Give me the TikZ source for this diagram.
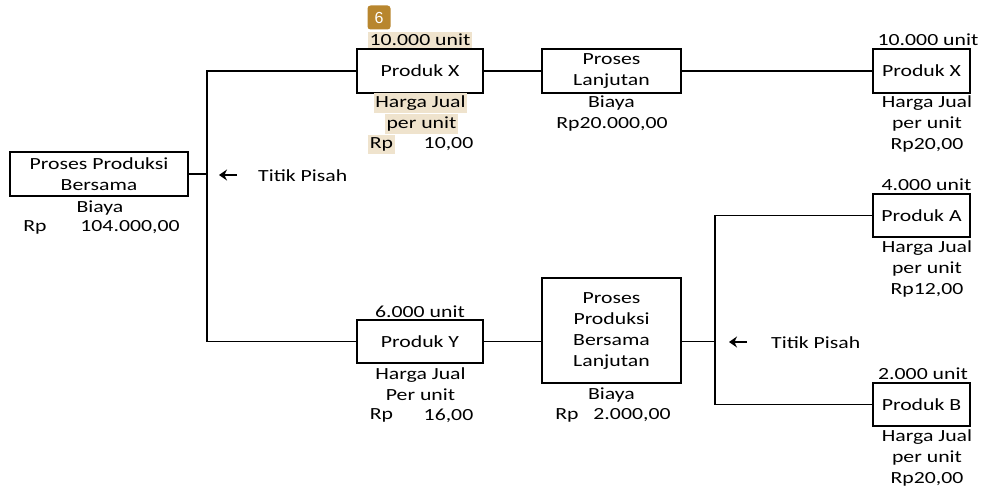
\documentclass[tikz,border=0pt]{standalone}
\usepackage{fontspec}
\setmainfont{Carlito}[FakeStretch=1.28]
\newfontfamily\badgefont{Liberation Sans}
\usetikzlibrary{arrows.meta,positioning}
\definecolor{hiliteclr}{RGB}{239,227,205}
\definecolor{badgeclr}{RGB}{184,134,46}
\tikzset{
  flowbox/.style={draw, line width=2.9pt, inner sep=0pt, align=center},
  flowline/.style={line width=1.6pt},
  flowlabel/.style={inner sep=0pt, align=center},
  hilite/.style={fill=hiliteclr, inner xsep=1.5pt, inner ysep=2.5pt},
  pisaharrow/.style={-{Stealth[length=8pt,width=11pt]}, line width=2.6pt}
}

\begin{document}
\begin{tikzpicture}[x=1pt, y=-1pt, font=\fontsize{17}{21}\selectfont]
  \useasboundingbox (0,0) rectangle (982,487);
  % boxes
  \node[flowbox, minimum width=178pt, minimum height=44pt] (joint) at (99,174) {Proses Produksi\\Bersama};
  \node[flowbox, minimum width=126pt, minimum height=44pt] (prodx) at (420,71) {Produk X};
  \node[flowbox, minimum width=139pt, minimum height=44pt] (lanjut) at (611.5,71) {Proses\\Lanjutan};
  \node[flowbox, minimum width=97pt, minimum height=44pt] (prodxend) at (921.5,71) {Produk X};
  \node[flowbox, minimum width=126pt, minimum height=43pt] (prody) at (420,341.5) {Produk Y};
  \node[flowbox, minimum width=139pt, minimum height=105pt] (lanjutb) at (611.5,330.5) {Proses\\Produksi\\Bersama\\Lanjutan};
  \node[flowbox, minimum width=97pt, minimum height=43pt] (proda) at (921.5,215.5) {Produk A};
  \node[flowbox, minimum width=97pt, minimum height=43pt] (prodb) at (921.5,404.5) {Produk B};

  % connectors
  \coordinate (split1) at (207,174);
  \coordinate (split2) at (715,341.5);
  \draw[flowline] (joint.east) -- (split1);
  \draw[flowline] (prodx.west) -| (split1) |- (prody.west);
  \draw[flowline] (prodx) -- (lanjut);
  \draw[flowline] (lanjut) -- (prodxend);
  \draw[flowline] (prody) -- (lanjutb.west |- prody);
  \draw[flowline] (lanjutb.east |- split2) -- (split2);
  \draw[flowline] (proda.west) -| (split2) |- (prodb.west);

  % titik pisah
  \node[flowlabel, anchor=west] (pisah1) at (258,176) {Titik Pisah};
  \node[flowlabel, anchor=west] (pisah2) at (771,343) {Titik Pisah};
  \draw[pisaharrow] ([xshift=-21pt,yshift=1pt]pisah1.west) -- ++(-18,0);
  \draw[pisaharrow] ([xshift=-24pt,yshift=1pt]pisah2.west) -- ++(-18,0);

  % joint labels
  \node[flowlabel] (jointbiaya) at (100,208) {Biaya};
  \node[flowlabel] (jointrp) at (35,227.5) {Rp};
  \node[flowlabel] (jointval) at (130,227.5) {104.000,00};

  % produk X (split off)
  \node[fill=badgeclr, text=white, rounded corners=3pt, inner sep=0pt,
        minimum width=23pt, minimum height=24pt, font=\badgefont\fontsize{16}{16}\selectfont] (badge) at (379,17.5) {6};
  \node[flowlabel, hilite] (xunit) at (420,40) {10.000 unit};
  \node[flowlabel, hilite] (xharga) at (420.5,103) {Harga Jual};
  \node[flowlabel, hilite] (xper) at (421.5,124) {per unit};
  \node[flowlabel, hilite] (xrp) at (381.5,144.5) {Rp};
  \node[flowlabel] (xval) at (448.5,144.5) {10,00};

  % proses lanjutan
  \node[flowlabel] (lanjutbiaya) at (611.5,103) {Biaya};
  \node[flowlabel] (lanjutval) at (612,124) {Rp20.000,00};

  % produk X (end)
  \node[flowlabel] (xendunit) at (928,40) {10.000 unit};
  \node[flowlabel] (xendharga) at (927,124) {Harga Jual\\per unit\\Rp20,00};

  % produk Y
  \node[flowlabel] (yunit) at (420,312) {6.000 unit};
  \node[flowlabel] (yharga) at (420.5,384.5) {Harga Jual\\Per unit};
  \node[flowlabel] (yrp) at (381.5,415.5) {Rp};
  \node[flowlabel] (yval) at (448.5,415.5) {16,00};

  % proses produksi bersama lanjutan
  \node[flowlabel] (lanjutbbiaya) at (611.5,395) {Biaya};
  \node[flowlabel] (lanjutbrp) at (567,415.5) {Rp};
  \node[flowlabel] (lanjutbval) at (632,415.5) {2.000,00};

  % produk A
  \node[flowlabel] (aunit) at (926.5,185) {4.000 unit};
  \node[flowlabel] (aharga) at (927,269) {Harga Jual\\per unit\\Rp12,00};

  % produk B
  \node[flowlabel] (bunit) at (923,374) {2.000 unit};
  \node[flowlabel] (bharga) at (927,457.5) {Harga Jual\\per unit\\Rp20,00};
\end{tikzpicture}
\end{document}
